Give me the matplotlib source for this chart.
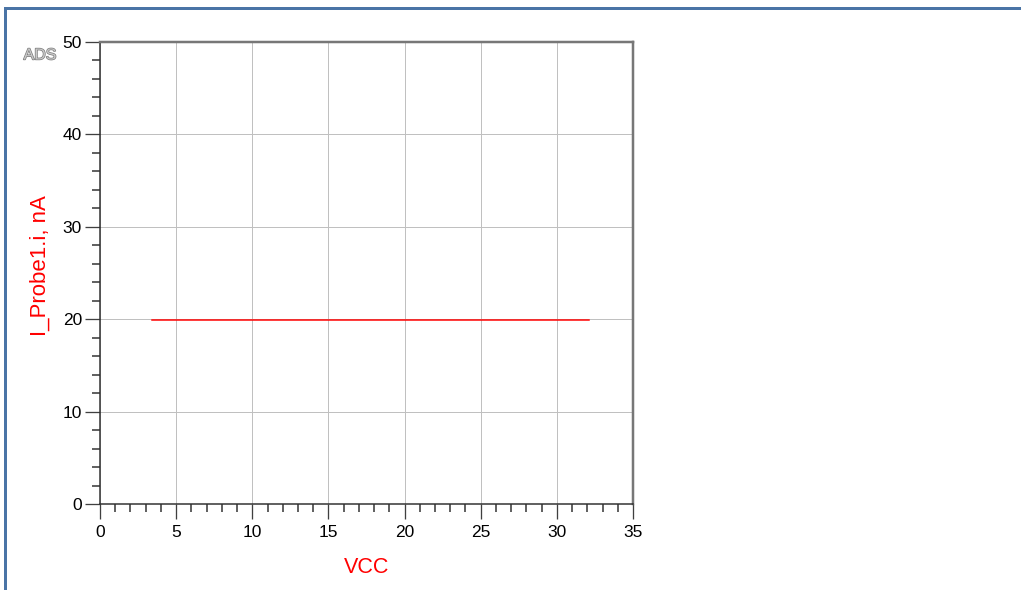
import matplotlib
matplotlib.use("Agg")
import matplotlib.pyplot as plt
import matplotlib.patheffects as pe
from matplotlib.ticker import MultipleLocator

plt.rcParams['font.family'] = ['Liberation Sans', 'DejaVu Sans']

vcc = [3.4, 32.1]
current_nA = [19.9, 19.9]

x_ticks = [0, 5, 10, 15, 20, 25, 30, 35]
y_ticks = [0, 10, 20, 30, 40, 50]

W, H = 1021, 590
PX = 0.72  # points per pixel at dpi 100
fig = plt.figure(figsize=(W / 100, H / 100), dpi=100)
ax = fig.add_axes([100 / W, 1 - 504 / H, 533 / W, 462 / H])

ax.plot(vcc, current_nA, color='#ff0000', lw=1.5 * PX)

ax.set_xlim(0, 35)
ax.set_ylim(0, 50)
ax.set_xticks(x_ticks)
ax.set_yticks(y_ticks)
ax.xaxis.set_minor_locator(MultipleLocator(1))
ax.yaxis.set_minor_locator(MultipleLocator(2))
ax.grid(True, which='major', color='#c0c0c0', lw=1 * PX)
ax.set_axisbelow(True)

ax.tick_params(which='major', direction='out', length=15 * PX, width=1.3 * PX, color='#404040',
               labelsize=12.5, pad=3 * PX)
ax.tick_params(axis='x', which='major', pad=6 * PX)
ax.tick_params(which='minor', direction='out', length=8 * PX, width=1.5 * PX, color='#303030')

for s in ['left', 'bottom']:
    ax.spines[s].set_color('#303030')
    ax.spines[s].set_linewidth(1.5 * PX)
for s in ['top', 'right']:
    ax.spines[s].set_color('#777777')
    ax.spines[s].set_linewidth(2.5 * PX)

ax.set_xlabel('VCC', color='#ff0000', fontsize=15.5)
ax.set_ylabel('I_Probe1.i, nA', color='#ff0000', fontsize=16)
ax.xaxis.set_label_coords((367 - 100) / 533, (504 - 557) / 462)
ax.yaxis.set_label_coords((51 - 100) / 533, (504 - 266) / 462)

fig.text(40 / W, 1 - 55 / H, 'ADS', color='#c8c8c8', fontsize=11.5, ha='center', va='center',
         path_effects=[pe.withStroke(linewidth=1.0, foreground='#7a7a7a')])

frame_color = '#4a74a6'
fig.add_artist(plt.Line2D([5 / W, 5 / W], [0, 1 - 8 / H], transform=fig.transFigure,
                          color=frame_color, lw=3 * PX))
fig.add_artist(plt.Line2D([5 / W, 1], [1 - 8 / H, 1 - 8 / H], transform=fig.transFigure,
                          color=frame_color, lw=3 * PX))

fig.savefig('out.png', dpi=100)
